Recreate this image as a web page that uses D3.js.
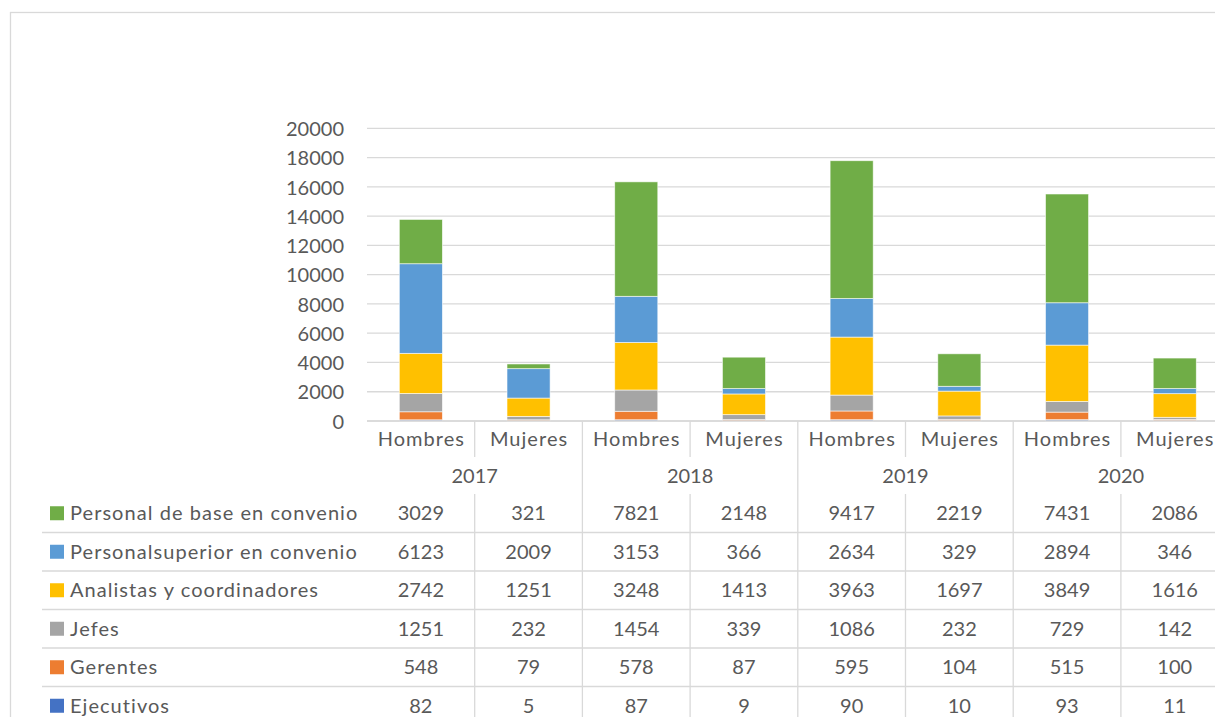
<!DOCTYPE html>
<html><head><meta charset="utf-8">
<script src="https://cdn.jsdelivr.net/npm/d3@7"></script>
<style>
body{margin:0;background:#fff;overflow:hidden}
svg text{font-family:Lato,"Open Sans",sans-serif;fill:#595959}
svg text.lbl{letter-spacing:1.05px}
</style>
</head><body>
<svg id="c" width="1215" height="717"></svg>
<script>
const years = ["2017", "2018", "2019", "2020"];
const genders = ["Hombres", "Mujeres"];
const seriesNames = ["Ejecutivos", "Gerentes", "Jefes", "Analistas y coordinadores", "Personalsuperior en convenio", "Personal de base en convenio"];
const seriesColors = ["#4472C4", "#ED7D31", "#A5A5A5", "#FFC000", "#5B9BD5", "#70AD47"];
const ejecutivos = [82, 5, 87, 9, 90, 10, 93, 11];
const gerentes = [548, 79, 578, 87, 595, 104, 515, 100];
const jefes = [1251, 232, 1454, 339, 1086, 232, 729, 142];
const analistas = [2742, 1251, 3248, 1413, 3963, 1697, 3849, 1616];
const personalSuperior = [6123, 2009, 3153, 366, 2634, 329, 2894, 346];
const personalBase = [3029, 321, 7821, 2148, 9417, 2219, 7431, 2086];
const yTicks = [0, 2000, 4000, 6000, 8000, 10000, 12000, 14000, 16000, 18000, 20000];

(function () {
const seriesValues = [ejecutivos, gerentes, jefes, analistas, personalSuperior, personalBase];
const cats = years.flatMap(y => genders.map(g => y + "|" + g));
const rows = cats.map((c, i) => {
  const o = {cat: c};
  seriesNames.forEach((s, k) => o[s] = seriesValues[k][i]);
  return o;
});

const svg = d3.select("#c");
const FS = 20;
const grid = "#d9d9d9";
const pLeft = 367, pRight = 1228.6, pTop = 128.3, pBase = 421;

svg.append("rect").attr("x", 10.5).attr("y", 12.5).attr("width", 1400).attr("height", 900)
  .attr("fill", "none").attr("stroke", grid).attr("stroke-width", 1.3);

const x = d3.scaleBand().domain(cats).range([pLeft, pRight]).padding(0);
const xYear = d3.scaleBand().domain(years).range([pLeft, pRight]).padding(0);
const y = d3.scaleLinear().domain([0, 20000]).range([pBase, pTop]);
const color = d3.scaleOrdinal().domain(seriesNames).range(seriesColors);

svg.append("g").selectAll("line").data(yTicks).join("line")
  .attr("x1", pLeft).attr("x2", pRight)
  .attr("y1", d => y(d)).attr("y2", d => y(d))
  .attr("stroke", grid).attr("stroke-width", 1.3);

const ya = svg.append("g").attr("transform", `translate(344,0)`)
  .call(d3.axisLeft(y).tickValues(yTicks).tickSize(0).tickPadding(0).tickFormat(d3.format("d")));
ya.attr("font-family", null).attr("font-size", null);
ya.select(".domain").remove();
ya.selectAll("text").attr("font-size", FS).attr("fill", null).attr("dy", "0.36em");

const stack = d3.stack().keys(seriesNames)(rows);
const bw = x.bandwidth() * 0.4;
svg.append("g").selectAll("g").data(stack).join("g")
  .attr("fill", d => color(d.key))
  .selectAll("rect").data(d => d).join("rect")
  .attr("x", d => x(d.data.cat) + (x.bandwidth() - bw) / 2)
  .attr("width", bw)
  .attr("y", d => y(d[1]))
  .attr("height", d => y(d[0]) - y(d[1]))
  .attr("stroke", "#ffffff").attr("stroke-opacity", 0.7).attr("stroke-width", 0.8);

const tableOrder = seriesNames.slice().reverse();
const rowH = 38.5;
const yRow = d3.scaleBand().domain(tableOrder).range([494, 494 + rowH * tableOrder.length]);
const hRowTop = 421, yearRowTop = 457;

const t = svg.append("g");
years.forEach((yr, i) => {
  if (i > 0) {
    t.append("line").attr("x1", xYear(yr)).attr("x2", xYear(yr))
      .attr("y1", hRowTop).attr("y2", 800).attr("stroke", grid).attr("stroke-width", 1.3);
  }
  const xm = x(yr + "|Mujeres");
  t.append("line").attr("x1", xm).attr("x2", xm).attr("y1", hRowTop).attr("y2", yearRowTop)
    .attr("stroke", grid).attr("stroke-width", 1.3);
  t.append("line").attr("x1", xm).attr("x2", xm).attr("y1", 494).attr("y2", 800)
    .attr("stroke", grid).attr("stroke-width", 1.3);
});
tableOrder.slice(1).forEach(s => {
  t.append("line").attr("x1", 42).attr("x2", pRight)
    .attr("y1", yRow(s)).attr("y2", yRow(s)).attr("stroke", grid).attr("stroke-width", 1.3);
});
svg.append("line").attr("x1", pLeft).attr("x2", pRight).attr("y1", pBase).attr("y2", pBase)
  .attr("stroke", grid).attr("stroke-width", 1.3);

t.selectAll("text.g").data(cats).join("text").attr("class", "g lbl")
  .attr("x", d => x(d) + x.bandwidth() / 2 + 0.5).attr("y", 446)
  .attr("text-anchor", "middle").attr("font-size", FS)
  .text(d => d.split("|")[1]);
t.selectAll("text.yr").data(years).join("text").attr("class", "yr")
  .attr("x", d => xYear(d) + xYear.bandwidth() / 2).attr("y", 483)
  .attr("text-anchor", "middle").attr("font-size", FS)
  .text(d => d);
tableOrder.forEach(s => {
  const cy = yRow(s) + yRow.bandwidth() / 2;
  t.append("rect").attr("x", 50).attr("y", cy - 7).attr("width", 14).attr("height", 14).attr("fill", color(s));
  t.append("text").attr("class", "lbl").attr("x", 70).attr("y", cy).attr("dy", "0.36em").attr("font-size", FS).text(s);
  const vals = seriesValues[seriesNames.indexOf(s)];
  cats.forEach((c, i) => {
    t.append("text").attr("x", x(c) + x.bandwidth() / 2).attr("y", cy).attr("dy", "0.36em")
      .attr("text-anchor", "middle").attr("font-size", FS).text(vals[i]);
  });
});
})();
</script>
</body></html>
